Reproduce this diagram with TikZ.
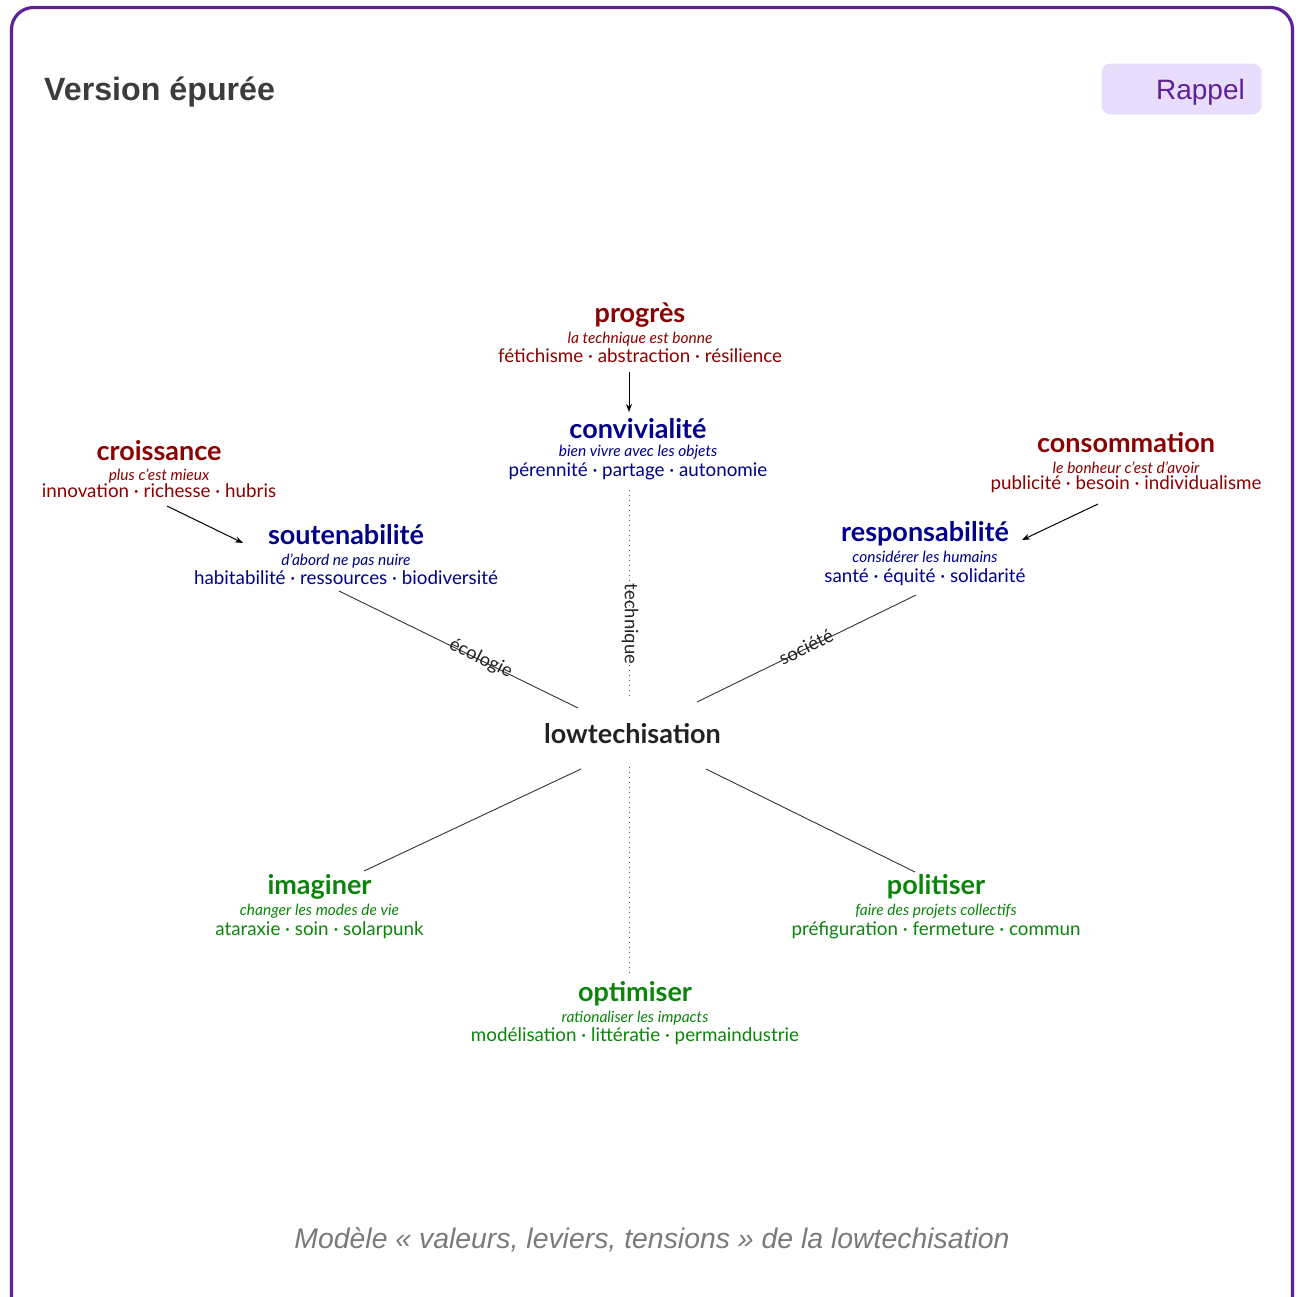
\documentclass[tikz,border=0pt]{standalone}
\usepackage{fontspec}
\setmainfont{Lato}
\newfontfamily\uifont{Liberation Sans}
\newfontfamily\capfont{Liberation Sans}
\usetikzlibrary{arrows.meta}
\definecolor{framepurple}{HTML}{5E2196}
\definecolor{btnfill}{HTML}{E8DEFC}
\definecolor{vred}{HTML}{8B0000}
\definecolor{vblue}{HTML}{00008A}
\definecolor{vgreen}{HTML}{0A850A}
\definecolor{titlegrey}{HTML}{3C3C3C}
\definecolor{capgrey}{HTML}{7A7A7A}
\definecolor{linegrey}{HTML}{333333}
\definecolor{ink}{HTML}{222222}
\begin{document}
\begin{tikzpicture}[x=1pt,y=-1pt,
  ttl/.style={anchor=base, inner sep=0pt, font=\fontsize{27}{31}\selectfont\bfseries},
  subt/.style={anchor=base, inner sep=0pt, font=\fontsize{15.5}{18}\selectfont\itshape},
  kw/.style={anchor=base, inner sep=0pt, font=\fontsize{18.8}{22}\selectfont},
  link/.style={draw=linegrey, line width=0.9pt},
  dotlink/.style={draw=linegrey!80, line width=1pt, dash pattern=on 1pt off 4pt},
  arr/.style={draw=black, line width=1pt, -{Stealth[length=8pt,width=6pt]}},
  lbl/.style={inner sep=0pt, text=ink, font=\fontsize{18.5}{21}\selectfont}
]
\useasboundingbox (0,0) rectangle (1300,1296);
\begin{scope}
\clip (0,0) rectangle (1300,1296);
\draw[framepurple, line width=3.2pt, rounded corners=22pt] (11.5,7.5) rectangle (1292.5,1340);
\end{scope}

% header
\node[anchor=base west, inner sep=0pt, text=titlegrey, font=\uifont\fontsize{32.2}{36}\selectfont\bfseries] (hdr) at (44,100) {Version épurée};
\node[draw=none, fill=btnfill, rounded corners=9pt, minimum width=160pt, minimum height=51pt, inner sep=0pt] (btn) at (1181.5,89) {};
\node[anchor=base east, inner sep=0pt, text=framepurple, font=\uifont\fontsize{28}{32}\selectfont] (btntxt) at (1245,99) {Rappel};

% progrès
\node[ttl, text=vred] (prog) at (640,322) {progrès};
\node[subt, text=vred] (progs) at (640,343) {la technique est bonne};
\node[kw, text=vred] (progk) at (640,362) {fétichisme · abstraction · résilience};
% convivialité
\node[ttl, text=vblue] (conv) at (638,438) {convivialité};
\node[subt, text=vblue] (convs) at (638,456) {bien vivre avec les objets};
\node[kw, text=vblue] (convk) at (638,476) {pérennité · partage · autonomie};
% croissance
\node[ttl, text=vred] (croi) at (159,460) {croissance};
\node[subt, text=vred] (crois) at (159,480) {plus c'est mieux};
\node[kw, text=vred] (croik) at (159,497) {innovation · richesse · hubris};
% soutenabilité
\node[ttl, text=vblue] (sout) at (346,544) {soutenabilité};
\node[subt, text=vblue] (souts) at (346,565) {d'abord ne pas nuire};
\node[kw, text=vblue] (soutk) at (346,584) {habitabilité · ressources · biodiversité};
% consommation
\node[ttl, text=vred] (cons) at (1126,452) {consommation};
\node[subt, text=vred] (conss) at (1126,473) {le bonheur c'est d'avoir};
\node[kw, text=vred] (consk) at (1126,489) {publicité · besoin · individualisme};
% responsabilité
\node[ttl, text=vblue] (resp) at (925,541) {responsabilité};
\node[subt, text=vblue] (resps) at (925,562) {considérer les humains};
\node[kw, text=vblue] (respk) at (925,582) {santé · équité · solidarité};
% lowtechisation
\node[anchor=base, inner sep=0pt, text=ink, font=\fontsize{27}{31}\selectfont\bfseries] (lt) at (632.5,743) {lowtechisation};
% imaginer
\node[ttl, text=vgreen] (imag) at (319.5,894) {imaginer};
\node[subt, text=vgreen] (imags) at (319.5,915) {changer les modes de vie};
\node[kw, text=vgreen] (imagk) at (319.5,935) {ataraxie · soin · solarpunk};
% politiser
\node[ttl, text=vgreen] (poli) at (936,894) {politiser};
\node[subt, text=vgreen] (polis) at (936,915) {faire des projets collectifs};
\node[kw, text=vgreen] (polik) at (936,935) {préfiguration · fermeture · commun};
% optimiser
\node[ttl, text=vgreen] (opti) at (635,1001) {optimiser};
\node[subt, text=vgreen] (optis) at (635,1022) {rationaliser les impacts};
\node[kw, text=vgreen] (optik) at (635,1041) {modélisation · littératie · permaindustrie};

% connector end points
\coordinate (progk-o) at (629,372);
\coordinate (conv-i) at (629,412);
\coordinate (croik-o) at (167,506);
\coordinate (sout-i) at (243,543);
\coordinate (consk-o) at (1098,504);
\coordinate (resp-i) at (1022,540);
\coordinate (soutk-o) at (339,591);
\coordinate (lt-nw) at (578,708);
\coordinate (convk-o) at (629,490);
\coordinate (lt-n) at (629,697);
\coordinate (respk-o) at (916,595);
\coordinate (lt-ne) at (697,702);
\coordinate (lt-sw) at (581,769);
\coordinate (imag-i) at (364,871);
\coordinate (lt-se) at (706,769);
\coordinate (poli-i) at (915,872);
\coordinate (lt-s) at (629,767);
\coordinate (opti-i) at (629,973);

% tensions
\draw[arr] (progk-o) -- (conv-i);
\draw[arr] (croik-o) -- (sout-i);
\draw[arr] (consk-o) -- (resp-i);

% axes
\draw[link] (soutk-o) -- node[lbl, sloped, pos=0.59, yshift=1.5pt] (eco) {écologie} (lt-nw);
\draw[dotlink] (convk-o) -- (lt-n);
\node[lbl, rotate=-90] (tech) at (630,624) {technique};
\draw[link] (respk-o) -- node[lbl, sloped, pos=0.5, yshift=1.5pt] (soc) {société} (lt-ne);
\draw[link] (lt-sw) -- (imag-i);
\draw[link] (lt-se) -- (poli-i);
\draw[dotlink] (lt-s) -- (opti-i);

% caption
\node[anchor=base, inner sep=0pt, text=capgrey, font=\capfont\fontsize{28.4}{33}\selectfont\itshape] (cap) at (652,1248) {Modèle « valeurs, leviers, tensions » de la lowtechisation};
\end{tikzpicture}
\end{document}
